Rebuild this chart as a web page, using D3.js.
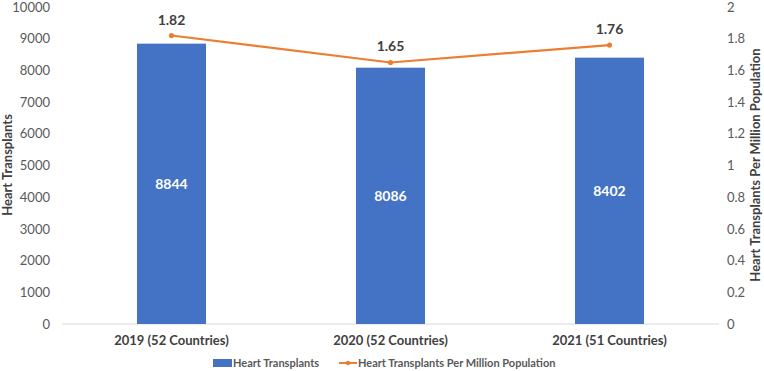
<!DOCTYPE html>
<html><head><meta charset="utf-8">
<script src="https://cdn.jsdelivr.net/npm/d3@7"></script>
<style>body{margin:0;background:#fff}svg{display:block;font-family:Lato,"Open Sans",sans-serif}</style>
</head><body><svg id="c" width="764" height="371"></svg>
<script>
const categories = ["2019 (52 Countries)", "2020 (52 Countries)", "2021 (51 Countries)"];
const transplants = [8844, 8086, 8402];
const perMillion = [1.82, 1.65, 1.76];
const leftTicks = [0,1000,2000,3000,4000,5000,6000,7000,8000,9000,10000];
const rightTicks = [0,0.2,0.4,0.6,0.8,1,1.2,1.4,1.6,1.8,2];

const svg = d3.select("#c");
const m = {l:62, r:719, t:7, b:324};
const x = d3.scaleBand().domain(categories).range([m.l, m.r]).paddingInner(0.685).paddingOuter(0.3425);
const yL = d3.scaleLinear().domain([0,10000]).range([m.b, m.t]);
const yR = d3.scaleLinear().domain([0,2]).range([m.b, m.t]);
const blue = "#4472C4", orange = "#ED7D31", txt = "#595959", dark = "#404040";

// baseline
svg.append("line").attr("x1", m.l).attr("x2", m.r).attr("y1", m.b).attr("y2", m.b).attr("stroke", "#d9d9d9");

// left axis
const la = svg.append("g").attr("transform", `translate(${m.l},0)`)
  .call(d3.axisLeft(yL).tickValues(leftTicks).tickSize(0).tickPadding(12).tickFormat(d3.format("d")));
la.select(".domain").remove();
la.selectAll("text").attr("fill", txt).style("font-size", "13px").style("font-family", "Lato");

// right axis
const ra = svg.append("g").attr("transform", `translate(${m.r},0)`)
  .call(d3.axisRight(yR).tickValues(rightTicks).tickSize(0).tickPadding(8).tickFormat(d => String(+d.toFixed(1))));
ra.select(".domain").remove();
ra.selectAll("text").attr("fill", txt).style("font-size", "13px").style("font-family", "Lato");

// x axis
const xa = svg.append("g").attr("transform", `translate(0,${m.b})`)
  .call(d3.axisBottom(x).tickSize(0).tickPadding(12));
xa.select(".domain").remove();
xa.selectAll("text").attr("fill", dark).style("font-size", "13px").style("font-weight", "bold").style("font-family", "Lato");

// bars
svg.selectAll("rect.bar").data(transplants).join("rect").attr("class","bar")
  .attr("x", (d,i) => x(categories[i])).attr("width", x.bandwidth())
  .attr("y", d => yL(d)).attr("height", d => yL(0) - yL(d)).attr("fill", blue);
svg.selectAll("text.bl").data(transplants).join("text").attr("class","bl")
  .attr("x", (d,i) => x(categories[i]) + x.bandwidth()/2)
  .attr("y", d => (yL(d) + yL(0))/2).attr("dy", "0.35em")
  .attr("text-anchor", "middle").attr("fill", "#fff").style("font-size", "14px").style("font-weight", "bold")
  .text(d => d);

// line
const line = d3.line().x((d,i) => x(categories[i]) + x.bandwidth()/2).y(d => yR(d));
svg.append("path").datum(perMillion).attr("d", line).attr("fill", "none").attr("stroke", orange).attr("stroke-width", 2.2);
svg.selectAll("circle.pt").data(perMillion).join("circle").attr("class","pt")
  .attr("cx", (d,i) => x(categories[i]) + x.bandwidth()/2).attr("cy", d => yR(d)).attr("r", 2.6).attr("fill", orange);
svg.selectAll("text.ll").data(perMillion).join("text").attr("class","ll")
  .attr("x", (d,i) => x(categories[i]) + x.bandwidth()/2).attr("y", d => yR(d) - 11)
  .attr("text-anchor", "middle").attr("fill", dark).style("font-size", "14px").style("font-weight", "bold")
  .text(d => d.toFixed(2));

// axis titles
svg.append("text").attr("transform", "translate(12,165) rotate(-90)").attr("text-anchor", "middle")
  .attr("fill", dark).style("font-size", "13px").style("font-weight", "bold").text("Heart Transplants");
svg.append("text").attr("transform", "translate(760,165) rotate(-90)").attr("text-anchor", "middle")
  .attr("fill", dark).style("font-size", "13px").style("font-weight", "bold").text("Heart Transplants Per Million Population");

// legend
const lg = svg.append("g").attr("transform", "translate(0,363)");
lg.append("rect").attr("x", 213).attr("y", -4).attr("width", 19).attr("height", 8).attr("fill", blue);
lg.append("text").attr("x", 233).attr("y", 0).attr("dy", "0.35em").attr("fill", txt).style("font-size", "11px").style("font-weight", "bold").text("Heart Transplants");
lg.append("line").attr("x1", 339).attr("x2", 357).attr("y1", 0).attr("y2", 0).attr("stroke", orange).attr("stroke-width", 2);
lg.append("circle").attr("cx", 348).attr("cy", 0).attr("r", 2.2).attr("fill", orange);
lg.append("text").attr("x", 358).attr("y", 0).attr("dy", "0.35em").attr("fill", txt).style("font-size", "11px").style("font-weight", "bold").text("Heart Transplants Per Million Population");
</script></body></html>
